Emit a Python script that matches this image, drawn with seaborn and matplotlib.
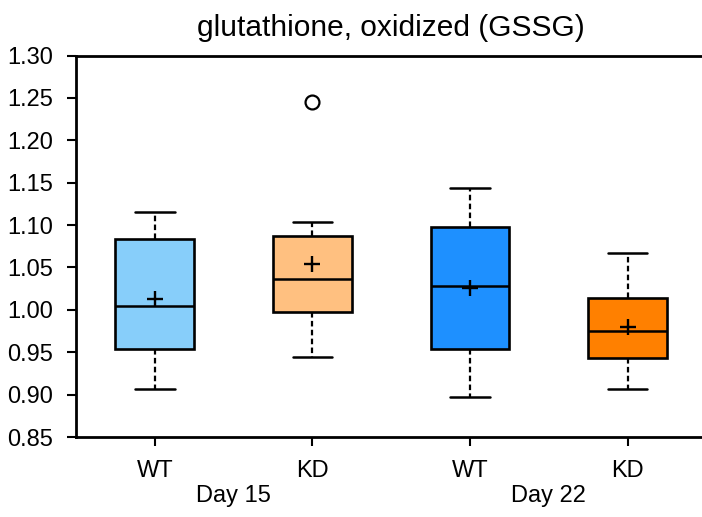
import numpy as np
import pandas as pd
import matplotlib
matplotlib.use("Agg")
import matplotlib.pyplot as plt
import matplotlib.transforms as mtransforms
import seaborn as sns

# ---- data ----
groups = ["D15_WT", "D15_KD", "D22_WT", "D22_KD"]
tick_labels = ["WT", "KD", "WT", "KD"]
day_labels = ["Day 15", "Day 22"]
d15_wt = [0.907, 0.930, 0.954, 0.980, 1.005, 1.040, 1.084, 1.102, 1.115]
d15_kd = [0.944, 0.975, 0.998, 1.020, 1.036, 1.0725, 1.087, 1.104, 1.245]
d22_wt = [0.897, 0.925, 0.9535, 0.990, 1.028, 1.075, 1.098, 1.1235, 1.144]
d22_kd = [0.9065, 0.925, 0.943, 0.960, 0.975, 0.995, 1.0143, 1.0336, 1.0676]
colors = ["#87CEFA", "#FFC080", "#1E90FF", "#FF8000"]
title = "glutathione, oxidized (GSSG)"
yticks = [0.85, 0.90, 0.95, 1.00, 1.05, 1.10, 1.15, 1.20, 1.25, 1.30]

df = pd.DataFrame({
    "group": sum([[g] * len(v) for g, v in zip(groups, [d15_wt, d15_kd, d22_wt, d22_kd])], []),
    "value": d15_wt + d15_kd + d22_wt + d22_kd,
})

sns.set_theme(style="white")
plt.rcParams["font.family"] = ["Liberation Sans", "DejaVu Sans"]

W, H = 702, 517
fig = plt.figure(figsize=(W / 100, H / 100), dpi=100)
ax = fig.add_axes([76 / W, 1 - 437 / H, (706.5 - 76) / W, (437 - 55.5) / H])

sns.boxplot(
    data=df, x="group", y="value", order=groups,
    hue="group", hue_order=groups, palette=dict(zip(groups, colors)),
    saturation=1, width=0.5, linewidth=1.9, linecolor="black",
    showmeans=True, legend=False, ax=ax,
    meanprops=dict(marker="+", markersize=12, markeredgecolor="black",
                   markeredgewidth=1.7),
    whiskerprops=dict(linestyle=(0, (2.5, 1.5)), linewidth=1.6, color="black"),
    capprops=dict(linewidth=1.8, color="black"),
    medianprops=dict(linewidth=1.8, color="black"),
    flierprops=dict(marker="o", markersize=10, markerfacecolor="none",
                    markeredgecolor="black", markeredgewidth=1.6),
)

ax.set_xlim(-0.5, 3.5)
ax.set_ylim(0.85, 1.30)
ax.set_yticks(yticks)
ax.set_yticklabels([f"{t:.2f}" for t in yticks])
ax.set_xticks(range(len(groups)))
ax.set_xticklabels(tick_labels)
ax.set_xlabel("")
ax.set_ylabel("")

for s in ["top", "bottom", "left"]:
    ax.spines[s].set_visible(True)
    ax.spines[s].set_linewidth(2.0)
    ax.spines[s].set_color("black")
ax.spines["right"].set_visible(False)

ax.tick_params(axis="both", which="major", direction="out", length=6.5, width=1.5,
               color="black", labelsize=17, labelcolor="black")
ax.tick_params(axis="x", pad=10, bottom=True)
ax.tick_params(axis="y", pad=10, left=True)

ax.set_title(title, fontsize=21.5, color="black", pad=14)

trans = mtransforms.blended_transform_factory(ax.transData, ax.transAxes)
for i, lab in enumerate(day_labels):
    ax.text(2 * i + 0.5, -0.155, lab, transform=trans, ha="center", va="center",
            fontsize=17, color="black")

fig.savefig("out.png", dpi=100)
